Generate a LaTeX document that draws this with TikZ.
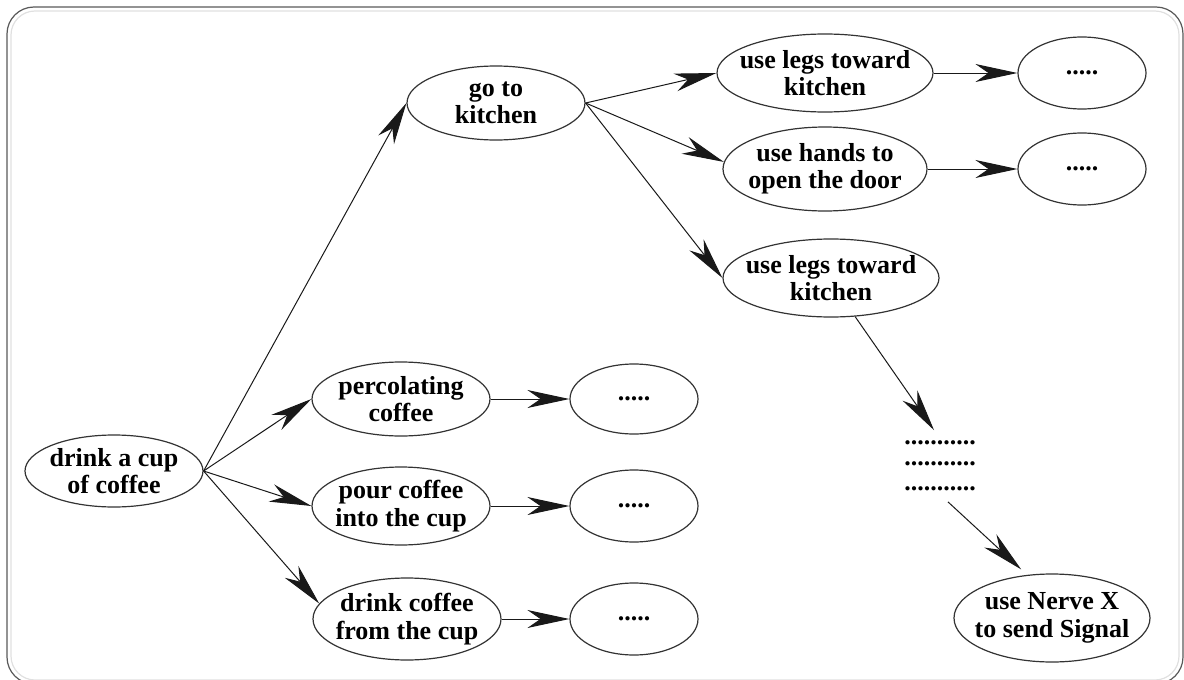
\documentclass[tikz,border=0pt]{standalone}
\usepackage{fontspec}
\setmainfont{Liberation Serif}
\usetikzlibrary{shapes.geometric,arrows.meta}
\tikzset{
  ell/.style={ellipse, draw=black!80, line width=0.6pt, inner sep=0pt},
  lbl/.style={align=center, inner sep=0pt, font=\fontsize{13}{13.7}\selectfont\bfseries, text=black},
  arr/.style={-{Stealth[length=21pt,width=9pt,inset=6.5pt]}, line width=0.5pt, draw=black!90},
}
\newcommand{\ellnode}[7]{% name, x, y, rx, ry, text
  \node[ell, minimum width=#4pt, minimum height=#5pt, label={[lbl]center:{#6}}] (#1) at (#2,#3) {};}
\begin{document}
\begin{tikzpicture}[x=0.5pt,y=-0.5pt]
\useasboundingbox (0,0) rectangle (1184,680);
\clip (0,0) rectangle (1184,680);
\draw[black!65, line width=0.6pt, rounded corners=13.5pt] (7,7) rectangle (1183,684);
\draw[black!12, line width=0.6pt, rounded corners=12pt] (11,11) rectangle (1179,680);

\ellnode{d}{114}{471}{89}{36}{drink a cup\\of coffee}{}
\ellnode{gk}{496}{103}{89}{37}{go to\\kitchen}{}
\ellnode{pc}{401}{399}{89}{37}{percolating\\coffee}{}
\ellnode{pr}{401}{506}{89}{39}{pour coffee\\into the cup}{}
\ellnode{dc}{407}{619}{94}{41}{drink coffee\\from the cup}{}
\ellnode{e1}{634}{399}{64}{35}{.....}{}
\ellnode{e2}{634}{506}{64}{36}{.....}{}
\ellnode{e3}{634}{619}{64}{36}{.....}{}
\ellnode{ul1}{825}{73}{108}{39}{use legs toward\\kitchen}{}
\ellnode{uh}{825}{169}{102}{42}{use hands to\\open the door}{}
\ellnode{ul2}{831}{278}{108}{39}{use legs toward\\kitchen}{}
\ellnode{e4}{1082}{73}{64}{36}{.....}{}
\ellnode{e5}{1082}{169}{64}{36}{.....}{}
\ellnode{nv}{1052}{618}{98}{44}{use Nerve X\\to send Signal}{}
\node[lbl, minimum height=35.5pt, minimum width=36pt] (dots) at (940,466)
  {...........\\[-3.6pt]...........\\[-1.0pt]...........};

\draw[arr] (d.east) -- (gk.west);
\draw[arr] (d.east) -- (pc.west);
\draw[arr] (d.east) -- (pr.west);
\draw[arr] (d.east) -- (dc.170);
\draw[arr] (pc.east) -- (e1.west);
\draw[arr] (pr.east) -- (e2.west);
\draw[arr] (dc.east) -- (e3.west);
\draw[arr] (gk.east) -- (ul1.west);
\draw[arr] (gk.east) -- (uh.176);
\draw[arr] (gk.east) -- (ul2.west);
\draw[arr] (ul1.east) -- (e4.west);
\draw[arr] (uh.east) -- (e5.west);
\draw[arr] (ul2.-58) -- ([xshift=-3pt]dots.north);
\draw[arr, shorten >=4pt] ([xshift=4pt]dots.south) -- (nv.120);
\end{tikzpicture}
\end{document}
